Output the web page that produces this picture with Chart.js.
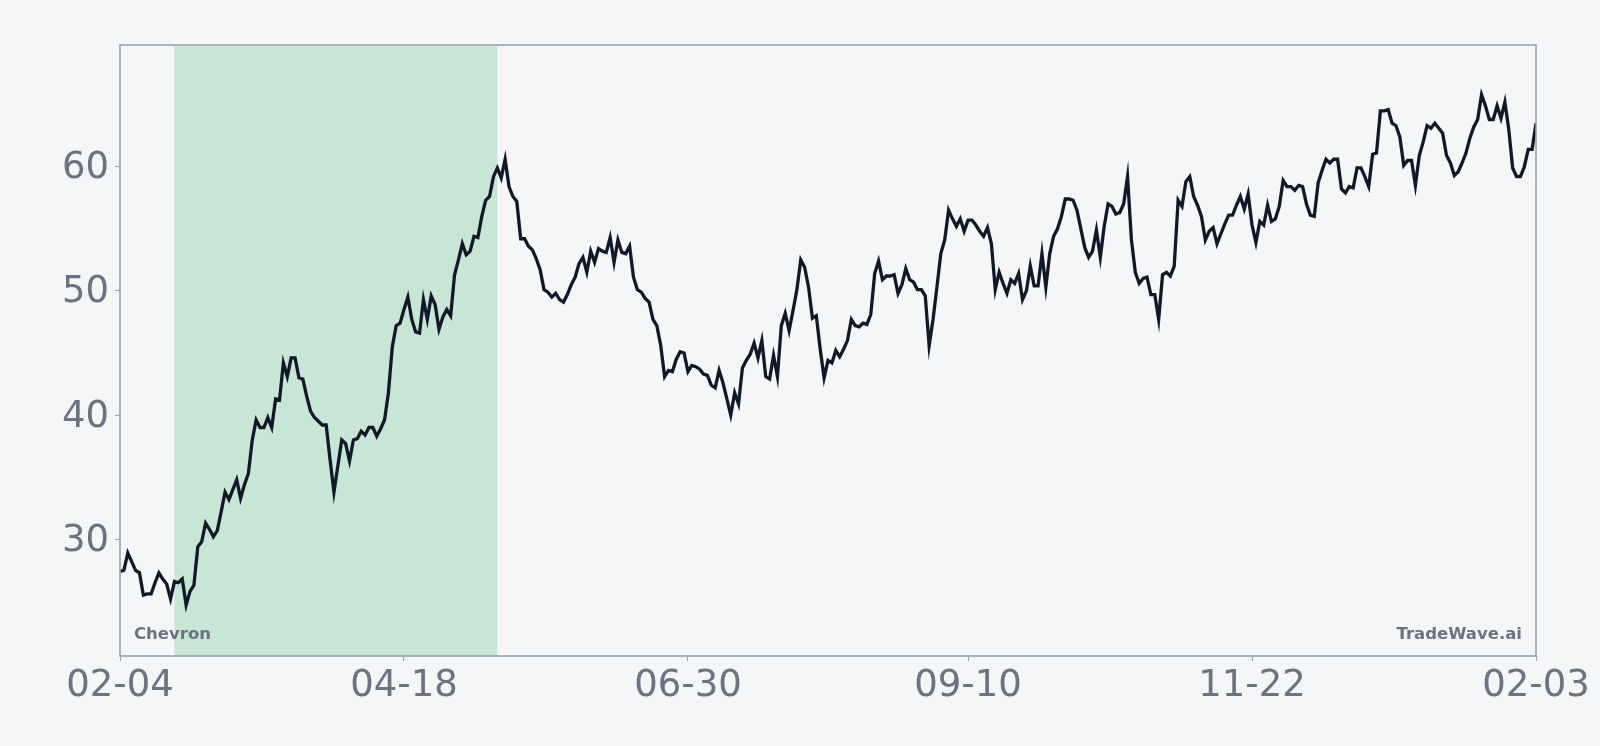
<!DOCTYPE html>
<html>
<head>
<meta charset="utf-8">
<script src="https://cdn.jsdelivr.net/npm/chart.js@4.4.1/dist/chart.umd.min.js"></script>
<style>
  html, body { margin: 0; padding: 0; background: #f4f6f8; }
  #wrap { width: 1600px; height: 746px; }
</style>
</head>
<body>
<div id="wrap"><canvas id="priceChart" width="1600" height="746"></canvas></div>
<script>
// Daily closing values, day 0 = 02-04, day 364 = 02-03
const closes = [
  27.4, 27.5, 28.9, 28.2, 27.5, 27.3, 25.5, 25.6, 25.6, 26.5,
  27.3, 26.8, 26.4, 25.2, 26.6, 26.5, 26.8, 24.7, 25.8, 26.3,
  29.4, 29.8, 31.3, 30.8, 30.2, 30.7, 32.2, 33.8, 33.2, 34.0,
  34.8, 33.3, 34.4, 35.3, 38.0, 39.6, 39.0, 39.0, 39.8, 39.0,
  41.3, 41.2, 44.2, 43.1, 44.6, 44.6, 43.0, 42.9, 41.5, 40.3,
  39.8, 39.5, 39.2, 39.2, 36.4, 33.8, 35.9, 38.0, 37.7, 36.3,
  38.0, 38.1, 38.7, 38.4, 39.0, 39.0, 38.3, 38.9, 39.6, 41.8,
  45.5, 47.2, 47.4, 48.5, 49.5, 47.7, 46.7, 46.6, 49.3, 47.7,
  49.6, 48.9, 46.9, 47.9, 48.5, 48.0, 51.3, 52.5, 53.8, 52.9,
  53.2, 54.4, 54.3, 56.0, 57.3, 57.6, 59.2, 59.9, 59.1, 60.6,
  58.4, 57.6, 57.2, 54.2, 54.2, 53.6, 53.3, 52.6, 51.7, 50.1,
  49.9, 49.5, 49.8, 49.3, 49.1, 49.7, 50.5, 51.1, 52.2, 52.7,
  51.5, 53.2, 52.3, 53.4, 53.2, 53.1, 54.3, 52.3, 54.1, 53.1,
  53.0, 53.6, 51.1, 50.1, 49.9, 49.4, 49.1, 47.7, 47.2, 45.6,
  43.1, 43.6, 43.5, 44.5, 45.1, 45.0, 43.5, 44.0, 43.9, 43.7,
  43.3, 43.2, 42.4, 42.2, 43.6, 42.6, 41.3, 40.0, 41.8, 40.9,
  43.8, 44.4, 44.9, 45.8, 44.6, 46.0, 43.1, 42.9, 44.8, 43.1,
  47.2, 48.2, 46.8, 48.4, 50.1, 52.5, 51.9, 50.3, 47.8, 48.0,
  45.3, 43.0, 44.4, 44.2, 45.2, 44.7, 45.3, 46.0, 47.7, 47.2,
  47.1, 47.4, 47.3, 48.1, 51.4, 52.4, 50.9, 51.2, 51.2, 51.3,
  49.8, 50.5, 51.8, 50.9, 50.7, 50.1, 50.1, 49.6, 45.6, 47.7,
  50.3, 53.0, 54.1, 56.5, 55.8, 55.2, 55.8, 54.8, 55.7, 55.7,
  55.3, 54.8, 54.4, 55.1, 53.8, 50.1, 51.5, 50.6, 49.8, 50.9,
  50.6, 51.4, 49.3, 50.0, 52.0, 50.4, 50.4, 53.0, 50.3, 53.0,
  54.4, 55.0, 56.0, 57.4, 57.4, 57.3, 56.5, 55.0, 53.5, 52.7,
  53.2, 54.9, 52.7, 55.2, 57.0, 56.8, 56.2, 56.3, 57.0, 59.2,
  54.1, 51.5, 50.6, 51.0, 51.1, 49.7, 49.7, 47.7, 51.3, 51.5,
  51.2, 52.0, 57.3, 56.8, 58.8, 59.2, 57.6, 56.9, 56.0, 54.1,
  54.8, 55.1, 53.8, 54.6, 55.4, 56.1, 56.1, 56.9, 57.6, 56.6,
  57.8, 55.3, 53.9, 55.6, 55.3, 56.9, 55.6, 55.8, 56.8, 58.9,
  58.4, 58.4, 58.1, 58.5, 58.4, 57.0, 56.1, 56.0, 58.7, 59.7,
  60.6, 60.3, 60.6, 60.6, 58.2, 57.9, 58.4, 58.3, 59.9, 59.9,
  59.2, 58.4, 61.0, 61.1, 64.5, 64.5, 64.6, 63.5, 63.3, 62.4,
  60.1, 60.5, 60.5, 58.5, 60.9, 62.0, 63.3, 63.1, 63.5, 63.1,
  62.7, 60.9, 60.3, 59.3, 59.6, 60.3, 61.1, 62.3, 63.2, 63.8,
  65.8, 64.9, 63.8, 63.8, 64.9, 63.9, 65.2, 63.0, 59.9, 59.2,
  59.2, 60.0, 61.4, 61.4, 63.5
];

const tickDays = [0, 73, 146, 218, 291, 364];
const tickLabels = ['02-04', '04-18', '06-30', '09-10', '11-22', '02-03'];
const yTicks = [30, 40, 50, 60];

// shaded period (day offsets)
const bandStart = 14;
const bandEnd = 97;

const symbolText = 'Chevron';
const brandText = 'TradeWave.ai';

const points = closes.map(function (v, i) { return { x: i, y: v }; });

const axisGray = '#6b7280';
const frameGray = '#9ca3af';

// background, shaded band, frame and corner texts
const decorPlugin = {
    id: 'decor',
    beforeDraw: function (chart) {
        var ctx = chart.ctx;
        var a = chart.chartArea;
        var xs = chart.scales.x;
        ctx.save();
        ctx.fillStyle = '#f4f6f8';
        ctx.fillRect(0, 0, chart.width, chart.height);
        var x1 = xs.getPixelForValue(bandStart);
        var x2 = xs.getPixelForValue(bandEnd);
        ctx.fillStyle = '#c8e6d5';
        ctx.fillRect(x1, a.top, x2 - x1, a.bottom - a.top);
        ctx.restore();
    },
    afterDraw: function (chart) {
        var ctx = chart.ctx;
        var a = chart.chartArea;
        ctx.save();
        ctx.strokeStyle = frameGray;
        ctx.lineWidth = 1.6;
        ctx.strokeRect(a.left, a.top, a.right - a.left, a.bottom - a.top);
        ctx.fillStyle = axisGray;
        ctx.font = 'bold 16.5px "DejaVu Sans"';
        ctx.textBaseline = 'middle';
        ctx.textAlign = 'left';
        ctx.fillText(symbolText, a.left + 14, a.bottom - 21);
        ctx.textAlign = 'right';
        ctx.fillText(brandText, a.right - 14, a.bottom - 21);
        ctx.restore();
    }
};

var ctx = document.getElementById('priceChart').getContext('2d');
new Chart(ctx, {
    type: 'line',
    data: {
        datasets: [{
            label: symbolText,
            data: points,
            borderColor: '#111827',
            borderWidth: 3.3,
            pointRadius: 0,
            tension: 0,
            fill: false
        }]
    },
    options: {
        responsive: false,
        animation: false,
        layout: { padding: { top: 45, right: 64, left: 0, bottom: 0 } },
        plugins: {
            legend: { display: false },
            tooltip: { enabled: false }
        },
        scales: {
            x: {
                type: 'linear',
                min: 0,
                max: 364,
                afterBuildTicks: function (axis) {
                    axis.ticks = tickDays.map(function (d) { return { value: d }; });
                },
                afterFit: function (axis) { axis.height = 90; },
                ticks: {
                    autoSkip: false,
                    maxRotation: 0,
                    padding: 3,
                    color: axisGray,
                    font: { family: 'DejaVu Sans', size: 37 },
                    callback: function (v) {
                        var i = tickDays.indexOf(v);
                        return i >= 0 ? tickLabels[i] : '';
                    }
                },
                grid: { drawOnChartArea: false, tickLength: 5, color: frameGray },
                border: { display: false }
            },
            y: {
                type: 'linear',
                min: 20.6,
                max: 69.8,
                afterBuildTicks: function (axis) {
                    axis.ticks = yTicks.map(function (v) { return { value: v }; });
                },
                afterFit: function (axis) { axis.width = 120; },
                ticks: {
                    padding: 6,
                    labelOffset: 2,
                    color: axisGray,
                    font: { family: 'DejaVu Sans', size: 37 }
                },
                grid: { drawOnChartArea: false, tickLength: 5, color: frameGray },
                border: { display: false }
            }
        }
    },
    plugins: [decorPlugin]
});
</script>
</body>
</html>
